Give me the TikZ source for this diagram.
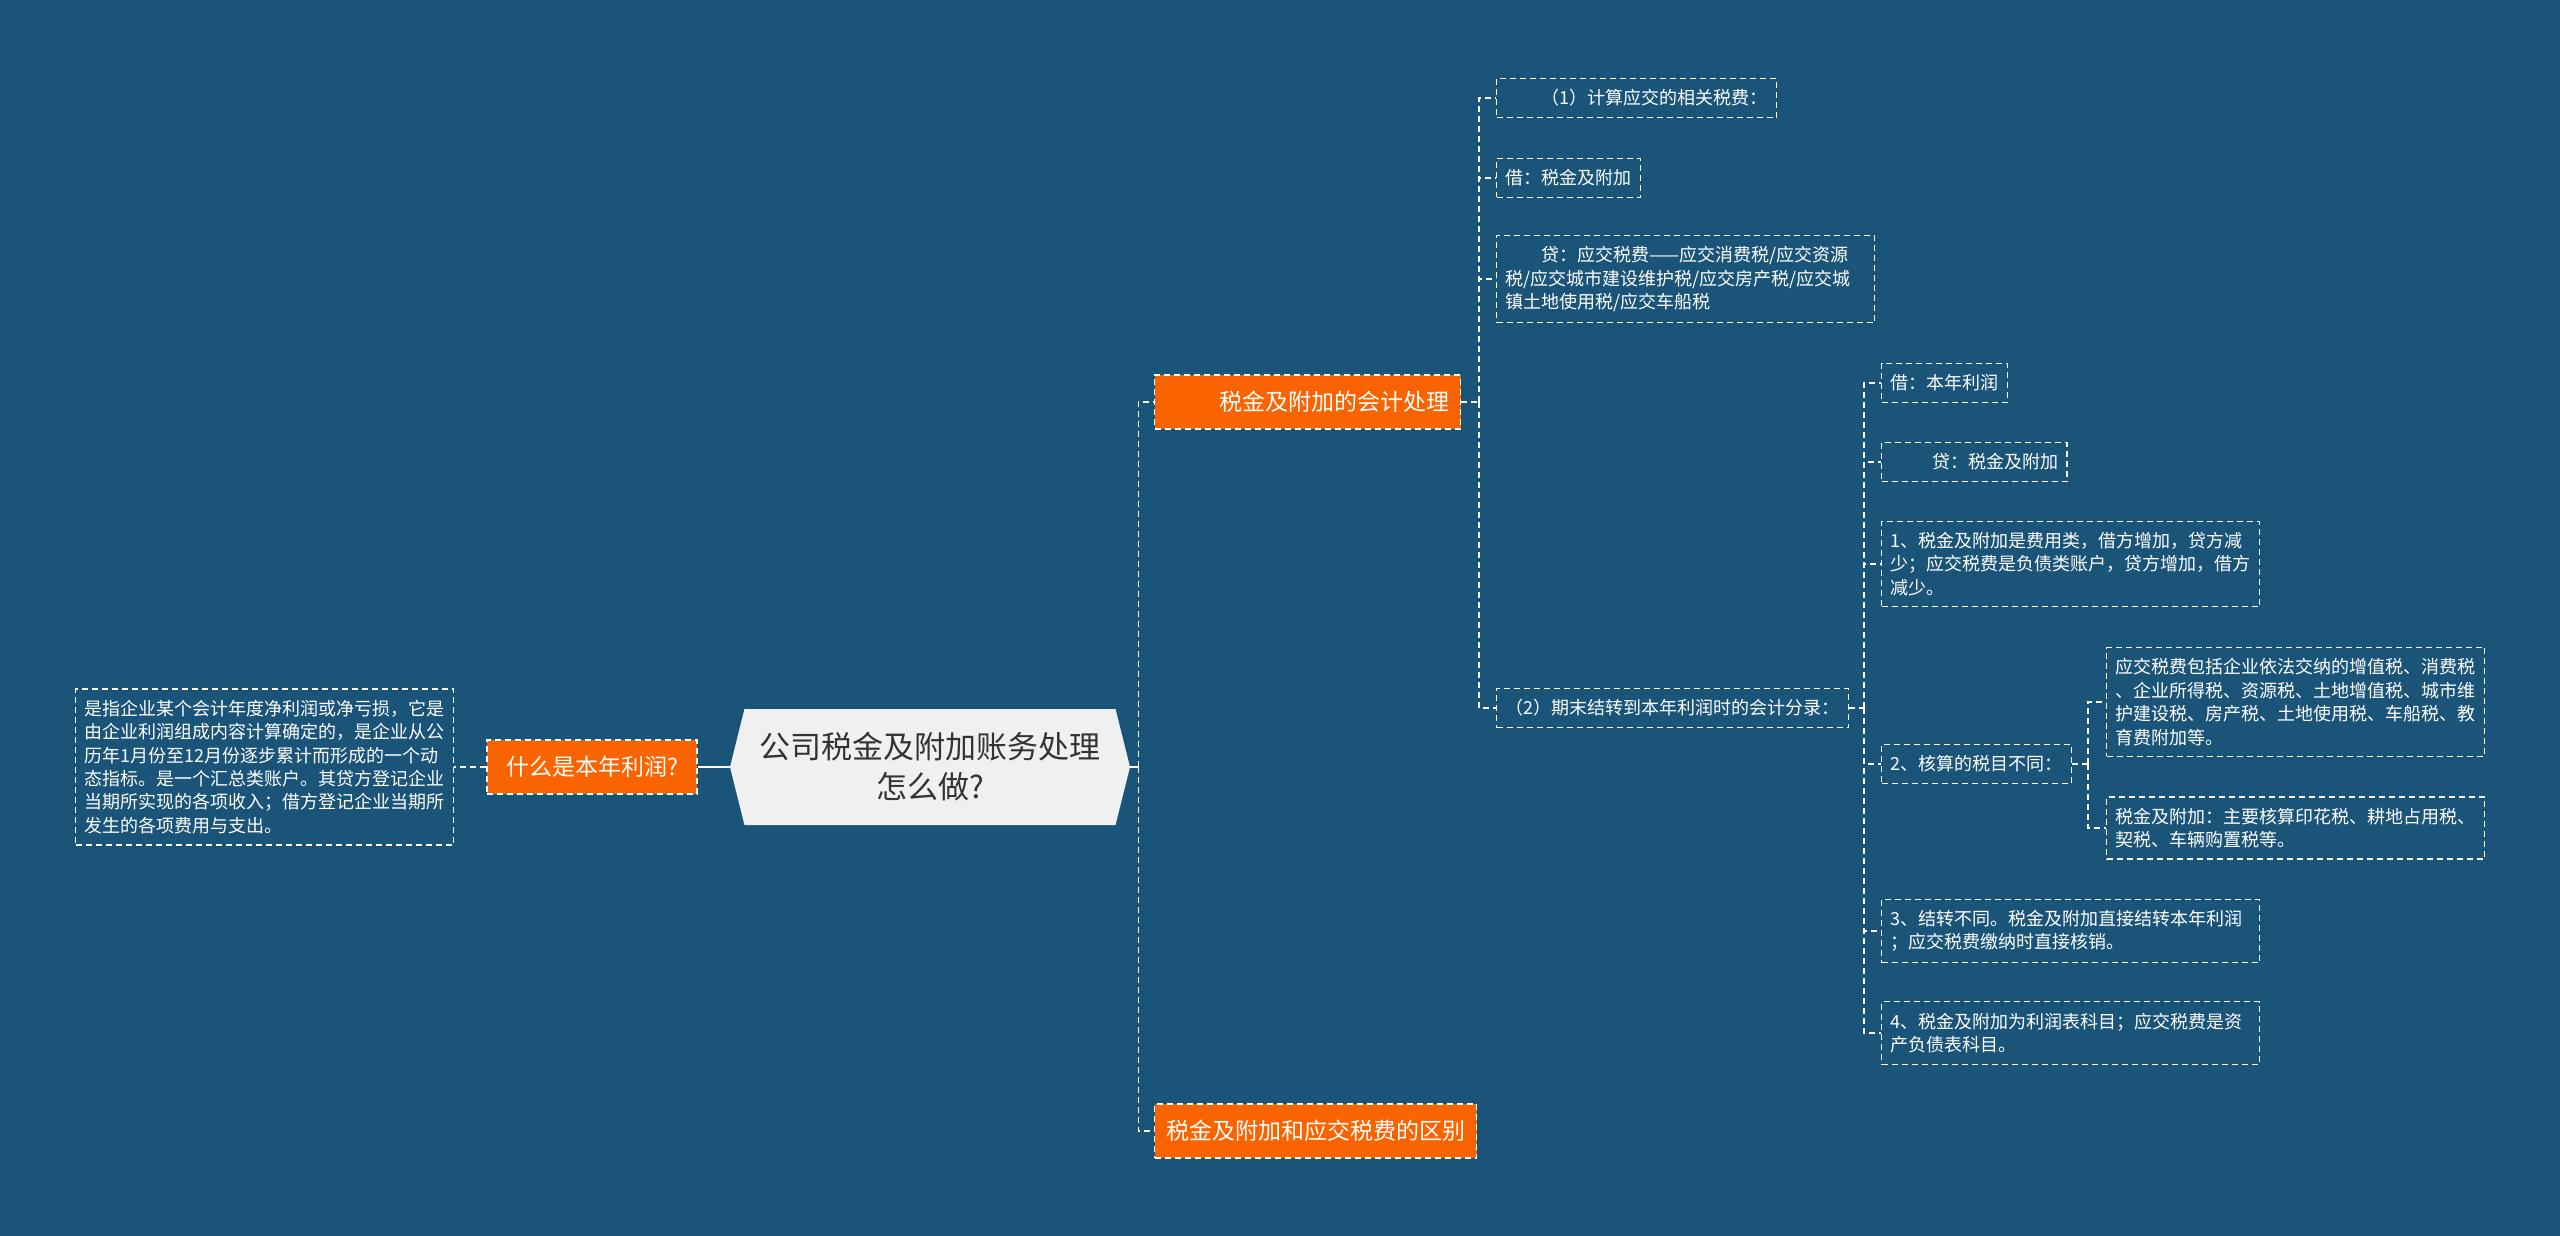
\documentclass[tikz,border=0pt]{standalone}
\usepackage{fontspec}
\setmainfont{Noto Sans CJK SC}
\usetikzlibrary{positioning,shapes.symbols}
\definecolor{bgblue}{HTML}{1A5479}
\definecolor{topicorange}{HTML}{FA6400}
\definecolor{rootgray}{HTML}{F0F0F0}
\definecolor{rootink}{HTML}{333333}

\begin{document}
\begin{tikzpicture}[x=0.5pt,y=-0.5pt,
  dline/.style={draw=white,line width=0.6pt,dash pattern=on 3pt off 2pt},
  sline/.style={draw=white,line width=0.6pt},
  root/.style={signal,signal to=west and east,signal pointer angle=152,fill=rootgray,text=rootink,
    font=\fontsize{15.5}{20}\selectfont,align=center,minimum width=200pt,minimum height=58pt,inner sep=0pt},
  topic/.style={dline,fill=topicorange,text=white,font=\fontsize{11.5}{14}\selectfont,
    minimum height=27pt,inner xsep=5.75pt,inner ysep=0pt},
  leaf/.style={dline,text=white,font=\fontsize{9}{11.7}\selectfont,align=left,inner xsep=4.5pt,inner ysep=5.5pt}]
\fill[bgblue] (0,0) rectangle (2560,1236);

% centre and left branch
\node[root] (root) at (930,767) {公司税金及附加账务处理\\怎么做?};
\node[topic,minimum width=105pt,left=16pt of root] (why) {什么是本年利润?};
\node[leaf,text width=180pt,left=16pt of why] (whydef) {是指企业某个会计年度净利润或净亏损，它是\\由企业利润组成内容计算确定的，是企业从公\\历年1月份至12月份逐步累计而形成的一个动\\态指标。是一个汇总类账户。其贷方登记企业\\当期所实现的各项收入；借方登记企业当期所\\发生的各项费用与支出。};
\draw[sline] (root.west) -- (why.east);
\draw[dline] (why.west) -- (whydef.east);

% right branch
\node[topic,anchor=west] (acct) at (1154,402) {\hspace*{2.3em}税金及附加的会计处理};
\node[topic,anchor=west] (diff) at (1154,1131) {税金及附加和应交税费的区别};
\coordinate (rootfork) at ([xshift=4pt]root.east);
\draw[sline] (root.east) -- (rootfork);
\draw[dline] (rootfork) |- (acct.west);
\draw[dline] (rootfork) |- (diff.west);

% accounting entries
\node[leaf,anchor=west] (calc) at (1496,98) {\hspace*{2em}（1）计算应交的相关税费：};
\node[leaf,anchor=west] (dr1) at (1496,178) {借：税金及附加};
\node[leaf,anchor=west,text width=180pt] (cr1) at (1496,279) {\hspace*{2em}贷：应交税费——应交消费税/应交资源\\税/应交城市建设维护税/应交房产税/应交城\\镇土地使用税/应交车船税};
\node[leaf,anchor=west] (close) at (1496,708) {（2）期末结转到本年利润时的会计分录：};
\coordinate (acctfork) at ([xshift=-8.5pt]calc.west |- acct.east);
\draw[dline] (acct.east) -- (acctfork);
\foreach \leafname in {calc,dr1,cr1,close}
  \draw[dline] (acctfork) |- (\leafname.west);

% closing entries and differences
\node[leaf,anchor=west] (dr2) at (1881,383) {借：本年利润};
\node[leaf,anchor=west] (cr2) at (1881,462) {\hspace*{2.3em}贷：税金及附加};
\node[leaf,anchor=west,text width=180pt] (diff1) at (1881,564) {1、税金及附加是费用类，借方增加，贷方减\\少；应交税费是负债类账户，贷方增加，借方\\减少。};
\node[leaf,anchor=west] (diff2) at (1881,764) {2、核算的税目不同：};
\node[leaf,anchor=west,text width=180pt] (diff3) at (1881,931) {3、结转不同。税金及附加直接结转本年利润\\；应交税费缴纳时直接核销。};
\node[leaf,anchor=west,text width=180pt] (diff4) at (1881,1033) {4、税金及附加为利润表科目；应交税费是资\\产负债表科目。};
\coordinate (closefork) at ([xshift=-8.5pt]dr2.west |- close.east);
\draw[dline] (close.east) -- (closefork);
\foreach \leafname in {dr2,cr2,diff1,diff2,diff3,diff4}
  \draw[dline] (closefork) |- (\leafname.west);

% tax items
\node[leaf,anchor=west,text width=180pt] (taxes) at (2106,702) {应交税费包括企业依法交纳的增值税、消费税\\、企业所得税、资源税、土地增值税、城市维\\护建设税、房产税、土地使用税、车船税、教\\育费附加等。};
\node[leaf,anchor=west,text width=180pt] (surtax) at (2106,828) {税金及附加：主要核算印花税、耕地占用税、\\契税、车辆购置税等。};
\coordinate (itemfork) at ([xshift=-9pt]taxes.west |- diff2.east);
\draw[dline] (diff2.east) -- (itemfork);
\draw[dline] (itemfork) |- (taxes.west);
\draw[dline] (itemfork) |- (surtax.west);
\end{tikzpicture}
\end{document}
